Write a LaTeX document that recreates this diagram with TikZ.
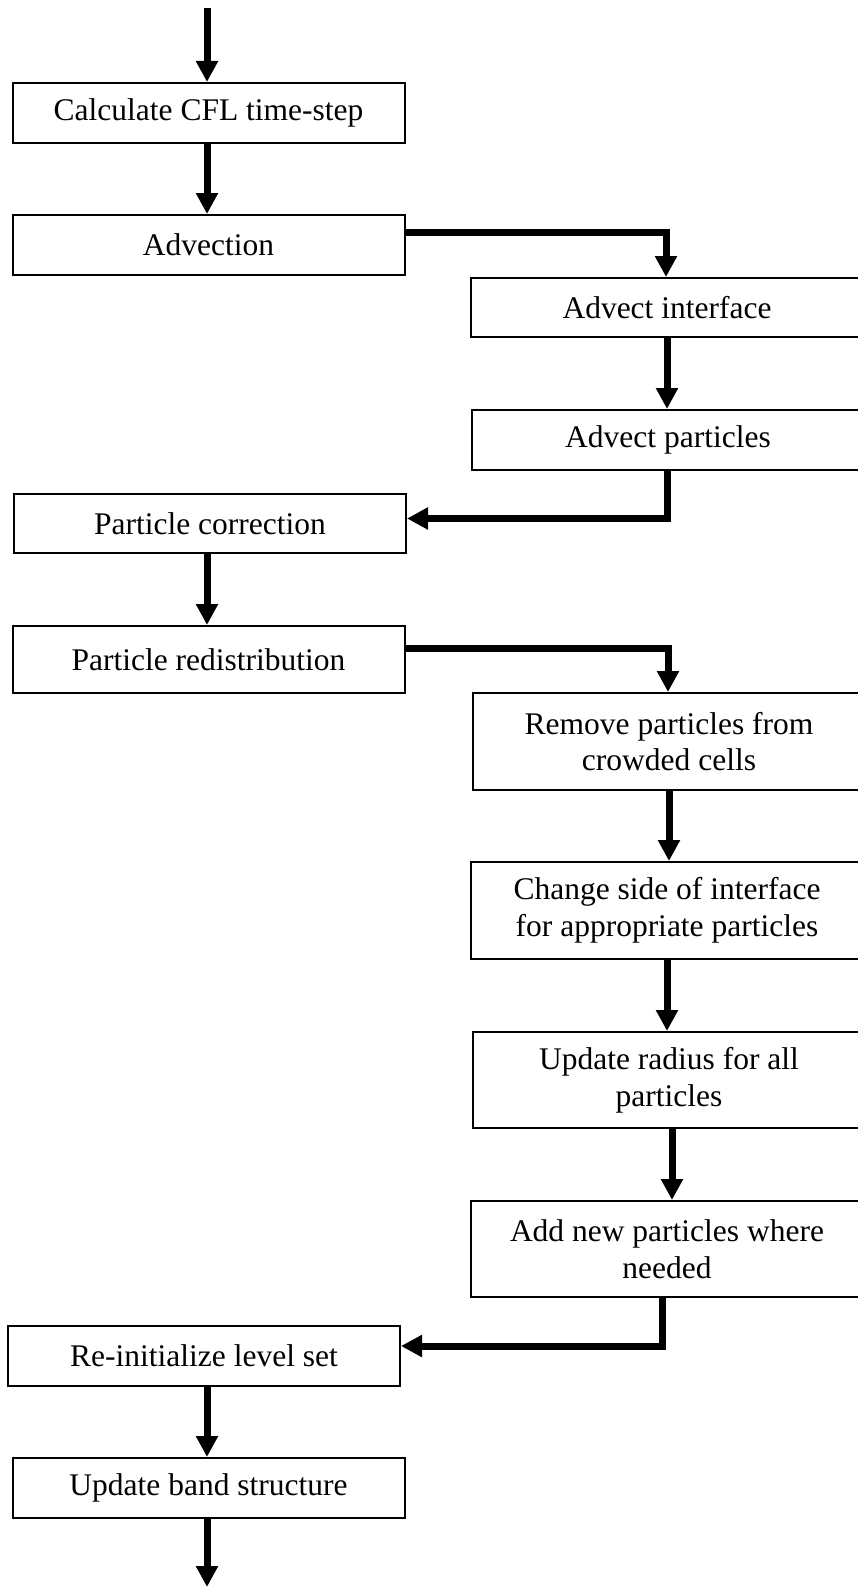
\documentclass[tikz,border=0pt]{standalone}
\usepackage{fontspec}
\setmainfont{Liberation Serif}
\usetikzlibrary{arrows.meta}
\begin{document}
\begin{tikzpicture}[
        x = 1pt, y = -1pt,
        > = {Triangle[width = 21pt, length = 21pt]},
        line width = 7pt,
        box/.style = {draw, line width = 2pt, rectangle, align = center, inner sep = 0pt,
            minimum width = 392pt, minimum height = #1,
            font = \fontsize{31.5}{36.7}\selectfont},
        box/.default = 60pt
    ]
        \useasboundingbox (0,0) rectangle (857,1587);
        % left column
        \node[box] (calc) at (208.5,113) {Calculate CFL time-step};
        \node[box] (adv) at (208.5,245) {Advection};
        \node[box = 59pt] (pcorr) at (210,523.5) {Particle correction};
        \node[box = 67pt] (predis) at (208.5,659.5) {Particle redistribution};
        \node[box] (reinit) at (204,1356) {Re-initialize level set};
        \node[box] (band) at (208.5,1488) {Update band structure};
        % right column
        \node[box = 59pt] (advint) at (667,307.5) {Advect interface};
        \node[box] (advpart) at (668,440) {Advect particles};
        \node[box = 97pt] (remove) at (669,741.5) {Remove particles from\\crowded cells};
        \node[box = 97pt] (change) at (667,910.5) {Change side of interface\\for appropriate particles};
        \node[box = 96pt] (update) at (669,1080) {Update radius for all\\particles};
        \node[box = 96pt] (add) at (667,1249) {Add new particles where\\needed};
        \coordinate (start) at (207,8);
        \coordinate (finish) at (207,1587);
        % arrows
        \draw[->] (start) -- (start |- calc.north);
        \draw[->] (calc.south -| start) -- (adv.north -| start);
        \draw[->] ([yshift = 13pt]adv.east) -| ([xshift = -1pt]advint.north);
        \draw[->] (advint.south) -- (advint.south |- advpart.north);
        \draw[->] ([xshift = -1pt]advpart.south) |- ([yshift = 5pt]pcorr.east);
        \draw[->] (pcorr.south -| start) -- (predis.north -| start);
        \draw[->] ([yshift = 11pt]predis.east) -| ([xshift = -1pt]remove.north);
        \draw[->] (remove.south) -- (remove.south |- change.north);
        \draw[->] (change.south) -- (change.south |- update.north);
        \draw[->] ([xshift = 3pt]update.south) -- ([xshift = 3pt]update.south |- add.north);
        \draw[->] ([xshift = -5pt]add.south) |- ([yshift = 10pt]reinit.east);
        \draw[->] (reinit.south -| start) -- (band.north -| start);
        \draw[->] (band.south -| start) -- (finish);
    \end{tikzpicture}
\end{document}
